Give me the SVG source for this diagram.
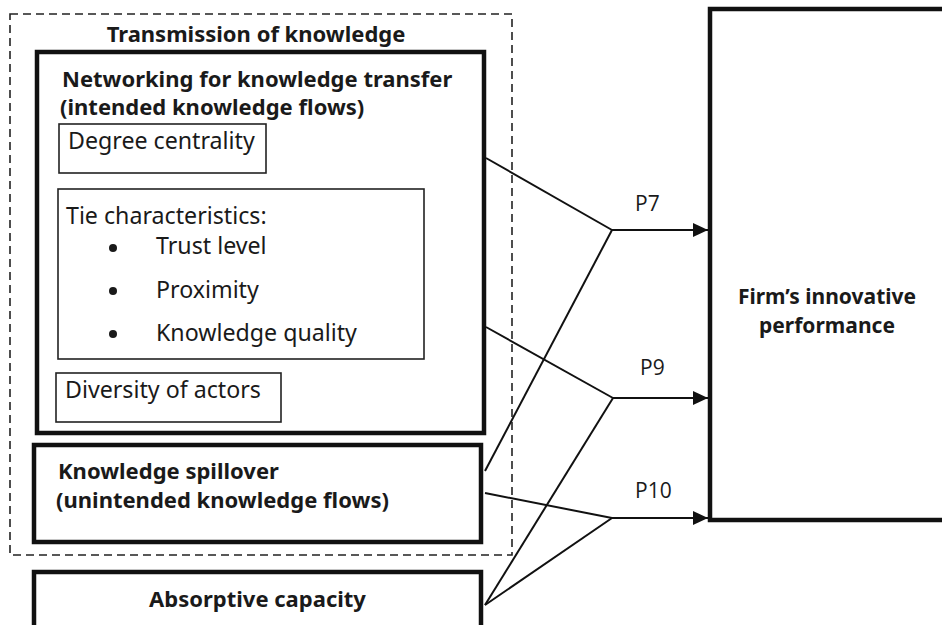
<svg xmlns="http://www.w3.org/2000/svg" width="942" height="625" viewBox="0 0 942 625">
<defs>
<style>
.thick{fill:#fff;stroke:#111;stroke-width:4.5}
.thin{fill:none;stroke:#222;stroke-width:1.6}
.dash{fill:none;stroke:#222;stroke-width:1.6;stroke-dasharray:8 5}
.b{font-family:"Noto Sans","DejaVu Sans",sans-serif;font-weight:bold;font-size:22px;fill:#1a1a1a}
.r{font-family:"Noto Sans","DejaVu Sans",sans-serif;font-size:23.2px;fill:#1a1a1a}
.p{font-family:"Open Sans","Noto Sans",sans-serif;font-size:21px;fill:#1a1a1a}
.ln{fill:none;stroke:#111;stroke-width:2}
</style>
<marker id="ah" markerUnits="userSpaceOnUse" markerWidth="16" markerHeight="16" viewBox="0 0 16 16" refX="15" refY="8" orient="auto">
<path d="M0,1 L15,8 L0,15 Z" fill="#111"/>
</marker>
</defs>
<rect width="942" height="625" fill="#fff"/>
<g id="transmission">
<rect class="dash" x="10" y="14" width="502" height="541"/>
<text class="b" x="256" y="42" text-anchor="middle">Transmission of knowledge</text>
</g>
<g id="networking">
<rect class="thick" x="37" y="52" width="447" height="381"/>
<text class="b" x="62" y="87">Networking for knowledge transfer</text>
<text class="b" x="60" y="115">(intended knowledge flows)</text>
</g>
<g id="degree">
<rect class="thin" x="59" y="124" width="207" height="49"/>
<text class="r" x="68" y="149">Degree centrality</text>
</g>
<g id="tie">
<rect class="thin" x="58" y="189" width="366" height="170"/>
<text class="r" x="66" y="224">Tie characteristics:</text>
<circle cx="113" cy="248" r="4" fill="#1a1a1a"/>
<text class="r" x="156" y="254">Trust level</text>
<circle cx="113" cy="291" r="4" fill="#1a1a1a"/>
<text class="r" x="156" y="298">Proximity</text>
<circle cx="113" cy="334" r="4" fill="#1a1a1a"/>
<text class="r" x="156" y="341">Knowledge quality</text>
</g>
<g id="diversity">
<rect class="thin" x="56" y="373" width="225" height="49"/>
<text class="r" x="65" y="398">Diversity of actors</text>
</g>
<g id="spillover">
<rect class="thick" x="34" y="445" width="447" height="97"/>
<text class="b" x="58" y="479">Knowledge spillover</text>
<text class="b" x="56" y="508">(unintended knowledge flows)</text>
</g>
<g id="absorptive">
<rect class="thick" x="34" y="572" width="447" height="80"/>
<text class="b" x="257.5" y="607" text-anchor="middle">Absorptive capacity</text>
</g>
<g id="firm">
<rect class="thick" x="710" y="9" width="260" height="511"/>
<text class="b" x="827" y="304" text-anchor="middle" style="font-size:21px">Firm’s innovative</text>
<text class="b" x="827" y="333" text-anchor="middle" style="font-size:21px">performance</text>
</g>
<g id="connectors">
<polyline class="ln" points="486,158 612,230"/>
<polyline class="ln" points="485,471 612,230"/>
<line class="ln" x1="612" y1="230" x2="708" y2="230" marker-end="url(#ah)"/>
<polyline class="ln" points="486,327 613,398"/>
<polyline class="ln" points="485,605 613,398"/>
<line class="ln" x1="613" y1="398" x2="708" y2="398" marker-end="url(#ah)"/>
<polyline class="ln" points="485,493 612,518"/>
<polyline class="ln" points="485,605 612,518"/>
<line class="ln" x1="612" y1="518" x2="708" y2="518" marker-end="url(#ah)"/>
<text class="p" x="635" y="211">P7</text>
<text class="p" x="640" y="375">P9</text>
<text class="p" x="635" y="498">P10</text>
</g>
</svg>
